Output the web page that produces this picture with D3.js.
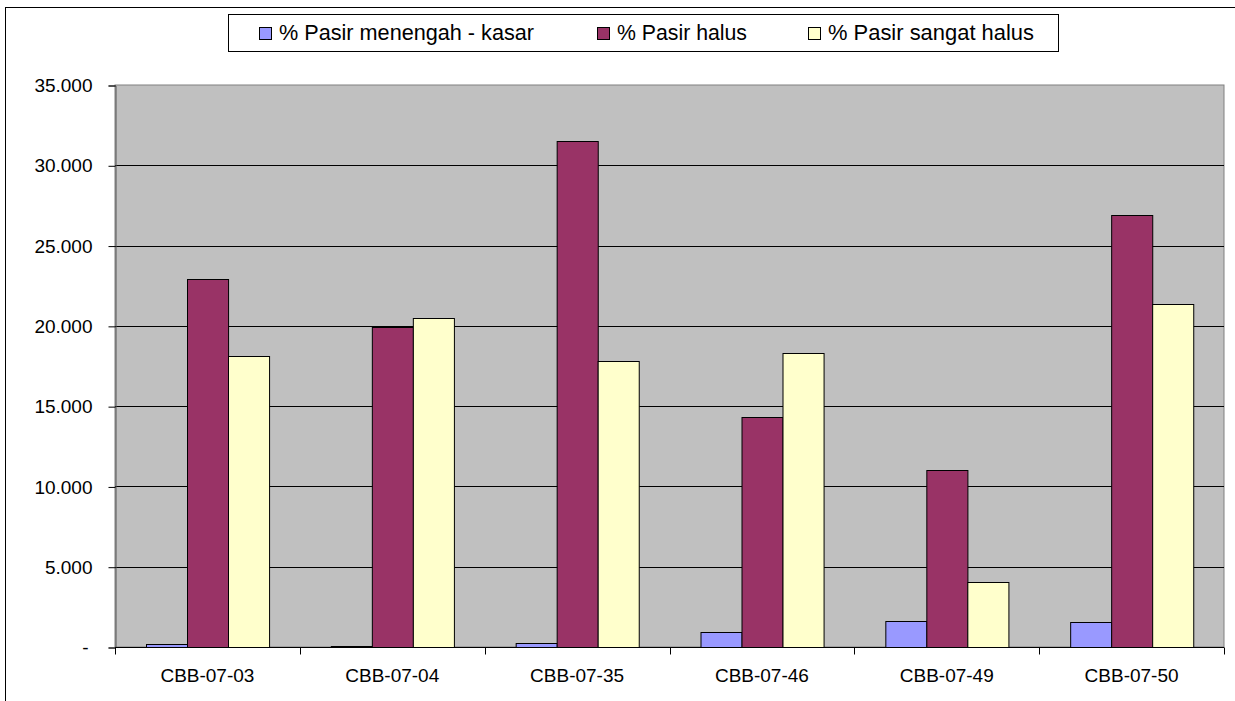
<!doctype html>
<html lang="en">
<head>
<meta charset="UTF-8">
<title>Pasir</title>
<script src="https://cdnjs.cloudflare.com/ajax/libs/d3/7.8.5/d3.min.js"></script>
<style>
    html, body { margin: 0; padding: 0; background: #fff; overflow: hidden; }
    text { font-family: "Liberation Sans", Arial, sans-serif; fill: #000; }
</style>
</head>
<body>
<svg id="chart" width="1235" height="701"></svg>
<script>
    const categories = ["CBB-07-03", "CBB-07-04", "CBB-07-35", "CBB-07-46", "CBB-07-49", "CBB-07-50"];
    const seriesNames = ["% Pasir menengah - kasar", "% Pasir halus", "% Pasir sangat halus"];
    const menengahKasar = [170, 80, 230, 920, 1620, 1540];
    const halus = [22920, 19950, 31510, 14300, 11000, 26900];
    const sangatHalus = [18100, 20470, 17790, 18300, 4050, 21340];
    const yTicks = [0, 5000, 10000, 15000, 20000, 25000, 30000, 35000];
    const colors = ["#9999FF", "#993366", "#FFFFCC"];

    const series = [menengahKasar, halus, sangatHalus];
    const svg = d3.select("#chart");
    const plot = {left: 115, top: 85, right: 1224, bottom: 647};

    // outer chart border
    svg.append("rect")
        .attr("x", 5.5).attr("y", 7.5)
        .attr("width", 1240).attr("height", 700)
        .attr("fill", "none").attr("stroke", "#000");

    const x = d3.scaleBand().domain(categories).range([plot.left, plot.right]);
    const xInner = d3.scaleBand().domain(d3.range(3))
        .range([0, x.bandwidth()]).paddingOuter(0.75).paddingInner(0);
    const y = d3.scaleLinear().domain([0, 35000]).range([plot.bottom, plot.top]);

    svg.append("rect")
        .attr("x", plot.left).attr("y", plot.top)
        .attr("width", plot.right - plot.left).attr("height", plot.bottom - plot.top)
        .attr("fill", "#C0C0C0").attr("stroke", "#808080");

    // gridlines
    svg.append("g").selectAll("line")
        .data(yTicks.filter(d => d > 0 && d < 35000))
        .enter().append("line")
        .attr("x1", plot.left).attr("x2", plot.right)
        .attr("y1", d => Math.round(y(d)) + 0.5).attr("y2", d => Math.round(y(d)) + 0.5)
        .attr("stroke", "#000");

    // bars
    const groups = svg.append("g").selectAll("g")
        .data(categories)
        .enter().append("g")
        .attr("transform", d => "translate(" + x(d) + ",0)");
    groups.selectAll("rect")
        .data((d, i) => series.map((s, k) => ({k: k, v: s[i]})))
        .enter().append("rect")
        .attr("x", d => Math.round(xInner(d.k)) + 0.5)
        .attr("y", d => Math.round(y(d.v)) + 0.5)
        .attr("width", xInner.bandwidth())
        .attr("height", d => Math.max(0, plot.bottom - Math.round(y(d.v))))
        .attr("fill", d => colors[d.k])
        .attr("stroke", "#000");

    // y axis
    const yAxis = svg.append("g")
        .attr("transform", "translate(" + (plot.left + 0.5) + ",0.5)")
        .call(d3.axisLeft(y).tickValues(yTicks).tickSize(7).tickPadding(16)
            .tickFormat(d => d === 0 ? "-" : d3.format(",.3f")(d / 1000).replace(",", "")));
    yAxis.select(".domain").attr("stroke", "#555");
    yAxis.selectAll(".tick line").attr("stroke", "#000");
    yAxis.selectAll("text").style("font-size", "19px").attr("fill", "#000");
    yAxis.selectAll(".tick").filter(d => d === 0).select("text").attr("dx", -4);

    // x axis
    const xAxisG = svg.append("g").attr("transform", "translate(0," + (plot.bottom + 0.5) + ")");
    xAxisG.append("line")
        .attr("x1", plot.left).attr("x2", plot.right)
        .attr("stroke", "#000");
    xAxisG.selectAll("line.tk")
        .data(categories.concat(["end"]))
        .enter().append("line").attr("class", "tk")
        .attr("x1", (d, i) => Math.round(plot.left + i * x.bandwidth()) + 0.5)
        .attr("x2", (d, i) => Math.round(plot.left + i * x.bandwidth()) + 0.5)
        .attr("y1", 0).attr("y2", 7)
        .attr("stroke", "#000");
    xAxisG.selectAll("text")
        .data(categories)
        .enter().append("text")
        .attr("x", d => x(d) + x.bandwidth() / 2)
        .attr("y", 34)
        .attr("text-anchor", "middle")
        .style("font-size", "19px")
        .text(d => d);

    // legend
    const legend = svg.append("g");
    legend.append("rect")
        .attr("x", 228.5).attr("y", 14.5).attr("width", 830).attr("height", 37)
        .attr("fill", "#fff").attr("stroke", "#000");
    const legendX = [259, 597, 808];
    const legendW = [255, 130, 206];
    const items = legend.selectAll("g.item")
        .data(seriesNames)
        .enter().append("g").attr("class", "item")
        .attr("transform", (d, i) => "translate(" + legendX[i] + ",0)");
    items.append("rect")
        .attr("x", 0.5).attr("y", 27.5).attr("width", 12).attr("height", 12)
        .attr("fill", (d, i) => colors[i]).attr("stroke", "#000");
    items.append("text")
        .attr("x", 20).attr("y", 40)
        .attr("textLength", (d, i) => legendW[i])
        .attr("lengthAdjust", "spacingAndGlyphs")
        .style("font-size", "21.5px")
        .text(d => d);
</script>
</body>
</html>
